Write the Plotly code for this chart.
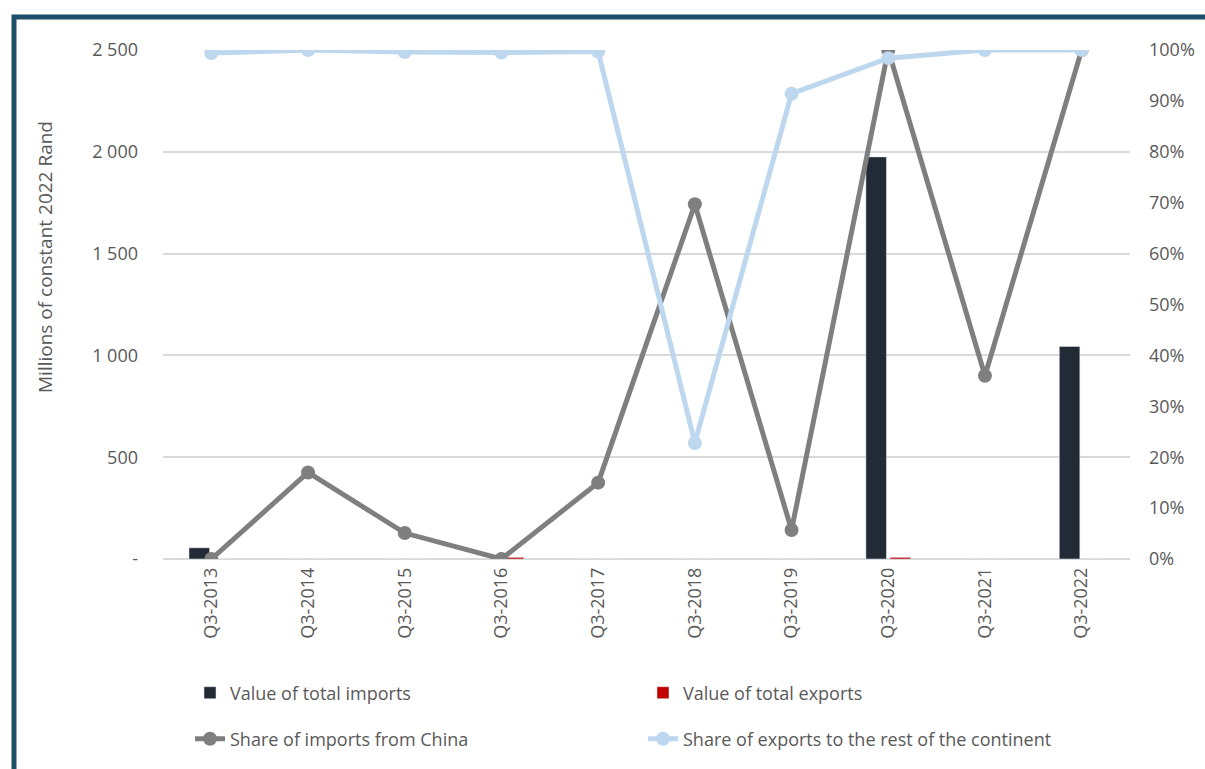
import plotly.graph_objects as go

quarters = ["Q3-2013", "Q3-2014", "Q3-2015", "Q3-2016", "Q3-2017",
            "Q3-2018", "Q3-2019", "Q3-2020", "Q3-2021", "Q3-2022"]
imports_value = [55, 0, 0, 0, 0, 0, 0, 1975, 0, 1044]
exports_value = [0, 0, 0, 8, 0, 0, 0, 8, 0, 0]
share_china = [0.0, 0.17, 0.051, 0.0, 0.15, 0.697, 0.057, 1.0, 0.36, 1.0]
share_continent = [0.994, 1.0, 0.996, 0.995, 0.997, 0.228, 0.914, 0.984, 1.0, 1.0]

FONT = "Open Sans"
TXT = "#595959"

fig = go.Figure()
fig.add_trace(go.Bar(x=quarters, y=imports_value, name="Value of total imports",
                     marker_color="#222a35", yaxis="y", legend="legend"))
fig.add_trace(go.Bar(x=quarters, y=exports_value, name="Value of total exports",
                     marker_color="#c00000", yaxis="y", legend="legend"))
fig.add_trace(go.Scatter(x=quarters, y=share_china, name="Share of imports from China",
                         mode="lines+markers", yaxis="y2", legend="legend2",
                         line=dict(color="#7f7f7f", width=5),
                         marker=dict(color="#7f7f7f", size=14)))
fig.add_trace(go.Scatter(x=quarters, y=share_continent,
                         name="Share of exports to the rest of the continent",
                         mode="lines+markers", yaxis="y2", legend="legend2",
                         line=dict(color="#bdd7ee", width=5),
                         marker=dict(color="#bdd7ee", size=14)))

W, H = 1205, 769
ml, mr, mt, mb = 163, 75, 50, 210
pw = W - ml - mr
ph = H - mt - mb

def px(xp):
    return (xp - ml) / pw

def py(yp):
    return (H - mb - yp) / ph

leg_common = dict(orientation="h", xanchor="left", yanchor="middle",
                  entrywidth=408, entrywidthmode="pixels", traceorder="normal",
                  font=dict(size=18, color=TXT, family=FONT), bgcolor="rgba(0,0,0,0)")

fig.update_layout(
    width=W, height=H,
    margin=dict(l=ml, r=mr, t=mt, b=mb, autoexpand=False),
    paper_bgcolor="white", plot_bgcolor="white",
    font=dict(family=FONT, color=TXT, size=18),
    barmode="group", bargap=0.5, bargroupgap=0.15,
    showlegend=True,
    legend=dict(x=px(190), y=py(693), **leg_common),
    legend2=dict(x=px(190), y=py(739), **leg_common),
    xaxis=dict(tickangle=-90, showgrid=False, showline=False, ticks="",
               tickfont=dict(size=18, color=TXT), range=[-0.5, 9.5],
               ticklabelstandoff=4),
    yaxis=dict(range=[0, 2500], tickvals=[0, 500, 1000, 1500, 2000, 2500],
               ticktext=["-", "500", "1 000", "1 500", "2 000", "2 500"],
               showgrid=True, gridcolor="#d9d9d9", gridwidth=1.5,
               zeroline=True, zerolinecolor="#d9d9d9", zerolinewidth=1.5,
               ticks="", ticklabelstandoff=24, tickfont=dict(size=18, color=TXT)),
    yaxis2=dict(range=[0, 1], overlaying="y", side="right", tickformat=".0%",
                dtick=0.1, showgrid=False, zeroline=False, ticks="",
                ticklabelstandoff=18, tickfont=dict(size=18, color=TXT)),
    annotations=[dict(text="Millions of constant 2022 Rand", textangle=-90,
                      xref="paper", yref="paper", x=px(45), y=py(257),
                      xanchor="center", yanchor="middle",
                      showarrow=False, font=dict(size=19, color=TXT))],
    shapes=[dict(type="rect", xref="paper", yref="paper",
                 x0=px(14), x1=px(1215), y0=py(17), y1=py(785),
                 line=dict(color="#1f4e6b", width=5), fillcolor="rgba(0,0,0,0)",
                 layer="above")],
)

fig.write_html("out.html")
